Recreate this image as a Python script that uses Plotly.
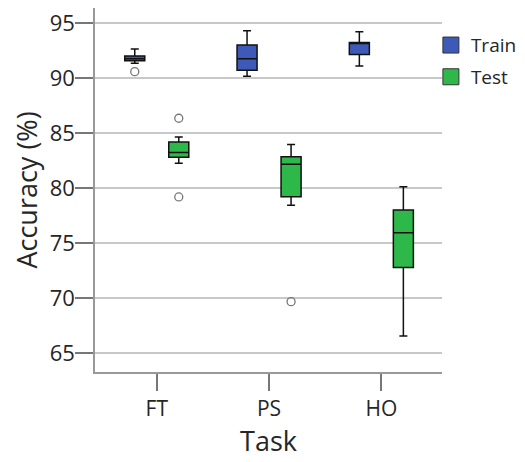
import plotly.graph_objects as go

tasks = ["FT", "PS", "HO"]

train_q1 = [91.60, 90.73, 92.15]
train_median = [91.78, 91.78, 93.20]
train_q3 = [92.03, 93.03, 93.24]
train_lower = [91.36, 90.18, 91.12]
train_upper = [92.66, 94.33, 94.24]
train_outliers = [[90.60], [], []]

test_q1 = [82.82, 79.21, 72.78]
test_median = [83.24, 82.18, 75.94]
test_q3 = [84.20, 82.85, 78.00]
test_lower = [82.27, 78.45, 66.55]
test_upper = [84.66, 83.96, 80.12]
test_outliers = [[86.36, 79.20], [69.67], []]

y_ticks = [65, 70, 75, 80, 85, 90, 95]

BLUE = "#3D5AB8"
GREEN = "#2EB84A"
FONT = "Open Sans"
TXT = "#262626"

fig = go.Figure()


def add_box(name, color, q1, med, q3, lo, hi, outl):
    fig.add_trace(go.Box(
        name=name, x=tasks, y=outl,
        q1=q1, median=med, q3=q3, lowerfence=lo, upperfence=hi,
        boxpoints="outliers",
        fillcolor=color,
        line=dict(color="#111111", width=1.5),
        marker=dict(symbol="circle-open", size=8, color="#777777",
                    line=dict(width=1.3, color="#777777")),
        whiskerwidth=0.4,
        showlegend=False,
        hoverinfo="skip",
    ))


add_box("Train", BLUE, train_q1, train_median, train_q3, train_lower, train_upper, train_outliers)
add_box("Test", GREEN, test_q1, test_median, test_q3, test_lower, test_upper, test_outliers)

# legend entries
for nm, col in [("Train", BLUE), ("Test", GREEN)]:
    fig.add_trace(go.Scatter(
        x=[None], y=[None], mode="markers", name=nm, legendgroup=nm,
        marker=dict(symbol="square", size=22, color=col,
                    line=dict(color="#333333", width=1)),
    ))

fig.update_layout(
    width=517, height=454,
    margin=dict(l=87, r=83, t=0, b=90, autoexpand=False),
    paper_bgcolor="white", plot_bgcolor="white",
    boxmode="group", boxgap=0.216, boxgroupgap=0.545,
    font=dict(family=FONT, color=TXT),
    legend=dict(x=0.968, y=0.95, xanchor="left", yanchor="top",
                font=dict(size=19, family=FONT, color=TXT),
                itemsizing="trace", traceorder="grouped", tracegroupgap=4,
                bgcolor="rgba(0,0,0,0)"),
    showlegend=True,
)
fig.update_xaxes(
    type="category", categoryorder="array", categoryarray=tasks,
    range=[-0.55, 2.54], automargin=False,
    showline=True, linecolor="#999999", linewidth=1.5,
    ticks="outside", ticklen=17, tickcolor="#777777", tickwidth=1.5,
    tickfont=dict(size=21, family=FONT, color=TXT),
    showgrid=False, zeroline=False,
    title=dict(text="Task", font=dict(size=27, family=FONT, color=TXT), standoff=6),
)
fig.update_yaxes(
    range=[63.27, 96.39], tickvals=y_ticks, automargin=False,
    showline=True, linecolor="#999999", linewidth=1.5,
    ticks="outside", ticklen=18, tickcolor="#777777", tickwidth=1.5,
    ticklabelstandoff=-4, ticklabeloverflow="allow",
    tickfont=dict(size=22, family=FONT, color=TXT),
    showgrid=True, gridcolor="#C8C8C8", gridwidth=1.5, zeroline=False,
    title=dict(text="Accuracy (%)", font=dict(size=27, family=FONT, color=TXT), standoff=4),
)

fig.write_html("out.html")
